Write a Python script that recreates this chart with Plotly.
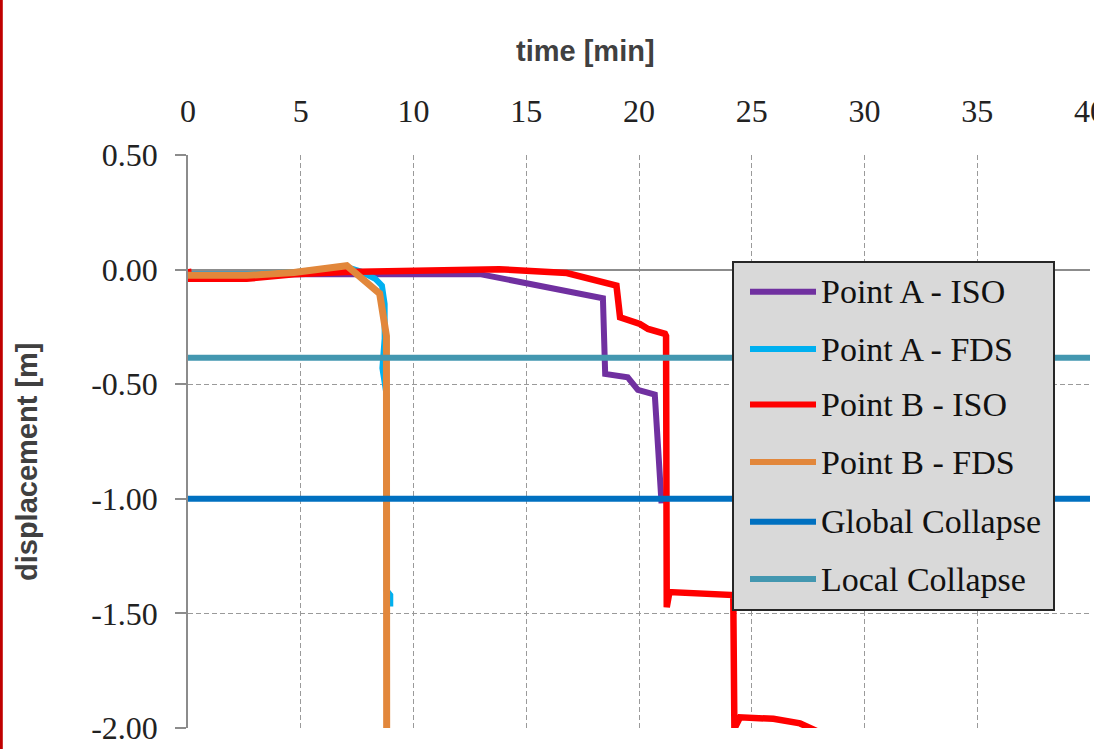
import plotly.graph_objects as go

# ---------------- data ----------------
a_iso_t = [0, 12.95, 18.4, 18.5, 19.5, 19.75, 19.95, 20.7, 21.0]
a_iso_d = [-0.02, -0.02, -0.125, -0.455, -0.47, -0.50, -0.525, -0.545, -1.02]

a_fds_t = [0, 2.6, 4.7, 7.0, 7.7, 8.3, 8.6, 8.72, 8.72, 8.62, 8.81, 8.81, 8.97, 8.97]
a_fds_d = [-0.02, -0.02, -0.012, 0.012, -0.01, -0.04, -0.07, -0.15, -0.30, -0.43, -0.55, -1.40, -1.42, -1.47]

b_iso_t = [0, 0.05, 2.6, 4.7, 7.0, 9.4, 13.8, 16.8, 19.0, 19.16, 20.04, 20.4, 20.56, 21.15,
           21.2, 21.23, 21.35, 22.5, 24.18, 24.23, 24.48, 25.96, 27.14, 28.03]
b_iso_d = [0.003, -0.04, -0.04, -0.02, -0.01, -0.007, 0.002, -0.015, -0.07, -0.208, -0.237, -0.259,
           -0.263, -0.28, -0.29, -1.473, -1.407, -1.412, -1.42, -2.003, -1.953, -1.96, -1.98, -2.02]

b_fds_t = [0, 2.6, 4.7, 7.04, 8.5, 8.8, 8.81]
b_fds_d = [-0.025, -0.025, -0.013, 0.017, -0.105, -0.29, -2.0]

limit_t = [0, 40]
global_collapse = [-1.0, -1.0]
local_collapse = [-0.385, -0.385]

series_names = ["Point A - ISO", "Point A - FDS", "Point B - ISO", "Point B - FDS",
                "Global Collapse", "Local Collapse"]
series_colors = ["#7030A0", "#00B0F0", "#FF0000", "#E2873B", "#0070C0", "#4397B0"]
series_widths = [6, 6, 6.5, 7, 6, 6]

x_ticks = [0, 5, 10, 15, 20, 25, 30, 35, 40]
y_ticks = [-2.0, -1.5, -1.0, -0.5, 0.0, 0.5]
y_ticktext = ["-2.00", "-1.50", "-1.00", "-0.50", "0.00", "0.50"]

x_title = "time [min]"
y_title = "displacement [m]"

# ---------------- figure ----------------
W, H = 1094, 749
L, R, T, B = 188, 4, 155, 21
PW, PH = W - L - R, H - T - B

def px(xp):
    return (xp - L) / PW

def py(yp):
    return (H - B - yp) / PH

fig = go.Figure()
xs = [a_iso_t, a_fds_t, b_iso_t, b_fds_t, limit_t, limit_t]
ys = [a_iso_d, a_fds_d, b_iso_d, b_fds_d, global_collapse, local_collapse]
for name, color, w, x, y in zip(series_names, series_colors, series_widths, xs, ys):
    fig.add_trace(go.Scatter(x=x, y=y, name=name, mode="lines",
                             line=dict(color=color, width=w), showlegend=False))

grid = "#9a9a9a"
axis_gray = "#8c8c8c"
serif = "Liberation Serif, Times New Roman, serif"
sans = "Liberation Sans, Arial, sans-serif"

fig.update_layout(
    width=W, height=H, autosize=False,
    margin=dict(l=L, r=R, t=T, b=B, pad=0, autoexpand=False),
    paper_bgcolor="white", plot_bgcolor="white",
    xaxis=dict(
        range=[0, 40], side="top", tickvals=x_ticks, automargin=False,
        tickfont=dict(family=serif, size=32, color="#222222"),
        showgrid=True, gridcolor=grid, gridwidth=1.4, griddash="5px,3px",
        zeroline=False, showline=False, ticks="", ticklabelstandoff=26,
        ticklabeloverflow="allow",
    ),
    yaxis=dict(
        range=[-2.0, 0.5], tickvals=y_ticks, ticktext=y_ticktext, automargin=False,
        tickfont=dict(family=serif, size=32, color="#222222"),
        showgrid=True, gridcolor=grid, gridwidth=1.4, griddash="5px,3px",
        zeroline=True, zerolinecolor=axis_gray, zerolinewidth=1.5,
        showline=True, linecolor=axis_gray, linewidth=1.5,
        ticks="outside", ticklen=11, tickcolor=axis_gray, tickwidth=1.5,
        ticklabelstandoff=11, ticklabeloverflow="allow",
    ),
    showlegend=False,
)

# axis titles (placed as in the cropped reference)
fig.add_annotation(xref="paper", yref="paper", x=px(585), y=py(51), text="<b>" + x_title + "</b>",
                   showarrow=False, xanchor="center", yanchor="middle",
                   font=dict(family=sans, size=29, color="#404040"))
fig.add_annotation(xref="paper", yref="paper", x=px(27), y=py(462), text="<b>" + y_title + "</b>",
                   showarrow=False, xanchor="center", yanchor="middle", textangle=-90,
                   font=dict(family=sans, size=29, color="#404040"))

# left red border
fig.add_shape(type="line", xref="paper", yref="paper", x0=px(1.3), x1=px(1.3),
              y0=py(-5), y1=py(H + 5), line=dict(color="#C00000", width=3), layer="above")

# legend box
fig.add_shape(type="rect", xref="paper", yref="paper", x0=px(733), x1=px(1054),
              y0=py(610), y1=py(262), fillcolor="#D9D9D9",
              line=dict(color="#262626", width=2), layer="above")
item_y = [291.7, 349.0, 404.5, 462.0, 521.7, 579.0]
for name, color, yy in zip(series_names, series_colors, item_y):
    fig.add_shape(type="line", xref="paper", yref="paper", x0=px(750), x1=px(816),
                  y0=py(yy), y1=py(yy), line=dict(color=color, width=6), layer="above")
    fig.add_annotation(xref="paper", yref="paper", x=px(819), y=py(yy), text=name,
                       showarrow=False, xanchor="left", yanchor="middle",
                       font=dict(family=serif, size=34, color="#111111"))

fig.write_html("out.html", config={"displayModeBar": False},
               post_script="document.body.style.margin='0';document.body.style.padding='0';"
                           "document.body.style.overflow='hidden';")
